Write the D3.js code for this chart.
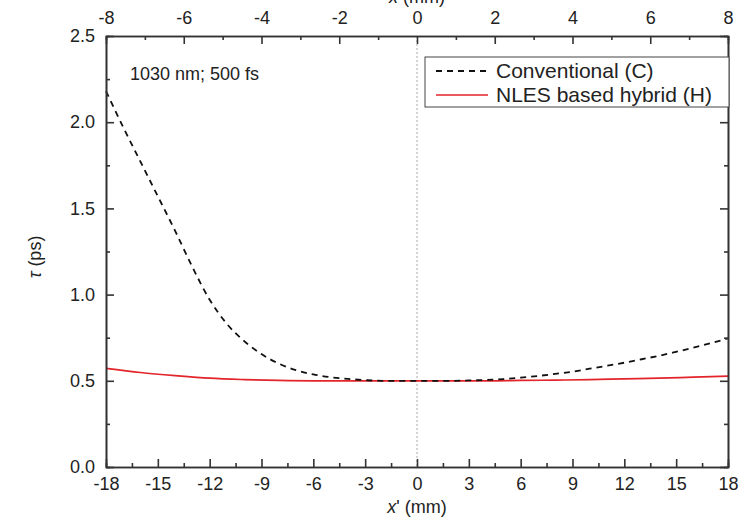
<!DOCTYPE html>
<html>
<head>
<meta charset="utf-8">
<script src="https://cdn.jsdelivr.net/npm/d3@7"></script>
<style>
  body { margin: 0; background: #fff; }
  svg text { font-family: "Liberation Sans", Arial, sans-serif; fill: #222; }
</style>
</head>
<body>
<svg id="chart" width="749" height="518"></svg>
<script>
// *** data ***
var conventionalX = [-18, -17, -16, -15, -14, -13, -12, -11, -10, -9, -8, -7, -6, -5, -4, -3, -2, -1, 0, 1, 2, 3, 4, 5, 6, 7, 8, 9, 10, 11, 12, 13, 14, 15, 16, 17, 18];
var conventionalTau = [2.18, 1.97, 1.77, 1.57, 1.37, 1.16, 0.97, 0.83, 0.73, 0.655, 0.6, 0.562, 0.537, 0.521, 0.511, 0.504, 0.5, 0.5, 0.5, 0.5, 0.5, 0.502, 0.505, 0.51, 0.518, 0.528, 0.54, 0.553, 0.57, 0.587, 0.605, 0.625, 0.645, 0.668, 0.692, 0.718, 0.746];
var hybridX = [-18, -16, -14, -12, -10, -8, -6, -4, -2, 0, 2, 4, 6, 8, 10, 12, 14, 16, 18];
var hybridTau = [0.572, 0.548, 0.53, 0.515, 0.507, 0.502, 0.5, 0.5, 0.5, 0.5, 0.5, 0.5, 0.502, 0.504, 0.507, 0.511, 0.515, 0.521, 0.527];

var bottomTicks = [-18, -15, -12, -9, -6, -3, 0, 3, 6, 9, 12, 15, 18];
var topTicks = [-8, -6, -4, -2, 0, 2, 4, 6, 8];
var yTicks = [0.0, 0.5, 1.0, 1.5, 2.0, 2.5];
var legendLabels = ["Conventional (C)", "NLES based hybrid (H)"];
var annotation = "1030 nm; 500 fs";

// *** chart ***
var svg = d3.select("#chart");
var margin = {top: 36, right: 21, bottom: 51, left: 106};
var width = 749 - margin.left - margin.right,
    height = 518 - margin.top - margin.bottom;

var x = d3.scaleLinear().domain([-18, 18]).range([0, width]);
var xTop = d3.scaleLinear().domain([-8, 8]).range([0, width]);
var y = d3.scaleLinear().domain([0, 2.5]).range([height, 0]);

var g = svg.append("g").attr("transform", "translate(" + margin.left + "," + margin.top + ")");

// zero reference line
g.append("line")
    .attr("x1", x(0)).attr("x2", x(0))
    .attr("y1", 0).attr("y2", height)
    .attr("stroke", "#aaa").attr("stroke-width", 1)
    .attr("stroke-dasharray", "2,2");

var lineMaker = d3.line().x(d => x(d[0])).y(d => y(d[1])).curve(d3.curveMonotoneX);

g.append("path")
    .datum(d3.zip(hybridX, hybridTau))
    .attr("fill", "none")
    .attr("stroke", "#e3242b")
    .attr("stroke-width", 1.7)
    .attr("d", lineMaker);

g.append("path")
    .datum(d3.zip(conventionalX, conventionalTau))
    .attr("fill", "none")
    .attr("stroke", "#111")
    .attr("stroke-width", 1.8)
    .attr("stroke-dasharray", "6,5")
    .attr("d", lineMaker);

// axes with inward ticks
function styleAxis(sel) {
    sel.selectAll("path.domain").attr("stroke", "#333").attr("stroke-width", 1.6);
    sel.selectAll(".tick line").attr("stroke", "#333").attr("stroke-width", 1.6);
    sel.selectAll(".tick text").style("font-size", "18px").attr("fill", "#222");
}

function minor(major) {
    var out = [];
    for (var i = 0; i < major.length - 1; i++) out.push((major[i] + major[i + 1]) / 2);
    return out;
}

var intLabel = d => String(d);           // plain hyphen, as in the figure
var decLabel = d => d.toFixed(1);

// bottom
var bottomG = g.append("g").attr("transform", "translate(0," + height + ")");
bottomG.append("g").call(d3.axisBottom(x).tickValues(minor(bottomTicks)).tickSize(-4).tickFormat(""))
    .call(styleAxis);
bottomG.append("g").call(d3.axisBottom(x).tickValues(bottomTicks).tickSize(-8).tickSizeOuter(0).tickPadding(10).tickFormat(intLabel))
    .call(styleAxis);

// top
var topG = g.append("g");
topG.append("g").call(d3.axisTop(xTop).tickValues(minor(topTicks)).tickSize(-4).tickFormat(""))
    .call(styleAxis);
topG.append("g").call(d3.axisTop(xTop).tickValues(topTicks).tickSize(-8).tickSizeOuter(0).tickPadding(12).tickFormat(intLabel))
    .call(styleAxis);

// left
var leftG = g.append("g");
leftG.append("g").call(d3.axisLeft(y).tickValues(minor(yTicks)).tickSize(-4).tickFormat(""))
    .call(styleAxis);
leftG.append("g").call(d3.axisLeft(y).tickValues(yTicks).tickSize(-8).tickSizeOuter(0).tickPadding(11).tickFormat(decLabel))
    .call(styleAxis);

// right
var rightG = g.append("g").attr("transform", "translate(" + width + ",0)");
rightG.append("g").call(d3.axisRight(y).tickValues(minor(yTicks)).tickSize(-4).tickFormat(""))
    .call(styleAxis);
rightG.append("g").call(d3.axisRight(y).tickValues(yTicks).tickSize(-8).tickSizeOuter(0).tickFormat(""))
    .call(styleAxis);

// axis titles
var bottomTitle = svg.append("text")
    .attr("x", margin.left + x(0))
    .attr("y", 513)
    .attr("text-anchor", "middle")
    .style("font-size", "18px");
bottomTitle.append("tspan").style("font-style", "italic").text("x");
bottomTitle.append("tspan").text("' (mm)");

// top title is cropped by the figure edge in the original
var topTitle = svg.append("text")
    .attr("x", margin.left + x(0))
    .attr("y", 3)
    .attr("text-anchor", "middle")
    .style("font-size", "18px");
topTitle.append("tspan").style("font-style", "italic").text("x");
topTitle.append("tspan").text(" (mm)");

var yTitle = svg.append("text")
    .attr("transform", "translate(41,257) rotate(-90)")
    .attr("text-anchor", "middle")
    .style("font-size", "18px");
yTitle.append("tspan").style("font-style", "italic").text("τ");
yTitle.append("tspan").text(" (ps)");

// annotation
svg.append("text")
    .attr("x", 130)
    .attr("y", 80)
    .style("font-size", "18px")
    .text(annotation);

// legend
var legend = svg.append("g").attr("transform", "translate(425,57)");
legend.append("rect")
    .attr("width", 304).attr("height", 50)
    .attr("fill", "#fff").attr("stroke", "#444").attr("stroke-width", 1);

var legendStyles = [
    {stroke: "#111", dash: "6,5", width: 1.8},
    {stroke: "#e3242b", dash: null, width: 1.7}
];
var legendRows = legend.selectAll(".legend-row")
    .data(legendLabels).enter().append("g")
    .attr("class", "legend-row")
    .attr("transform", (d, i) => "translate(0," + (14 + i * 24) + ")");

legendRows.append("line")
    .attr("x1", 11).attr("x2", 63)
    .attr("stroke", (d, i) => legendStyles[i].stroke)
    .attr("stroke-width", (d, i) => legendStyles[i].width)
    .attr("stroke-dasharray", (d, i) => legendStyles[i].dash);

legendRows.append("text")
    .attr("x", 71)
    .attr("y", 7)
    .style("font-size", "21px")
    .text(d => d);
</script>
</body>
</html>
